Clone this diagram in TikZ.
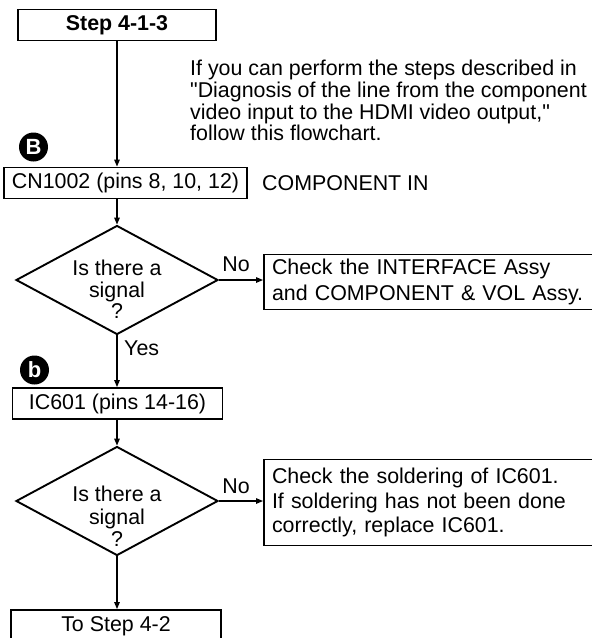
\documentclass[tikz,border=0pt]{standalone}
\usepackage{fontspec}
\setmainfont{Liberation Sans}[Ligatures=TeXOff]
\usetikzlibrary{shapes.geometric,arrows.meta}
\newcommand\myfs{\fontsize{21.4}{22}\selectfont}
\begin{document}
\begin{tikzpicture}[x=1pt,y=-1pt,
  box/.style={draw, line width=1.9pt, inner sep=0pt, font=\myfs},
  decision/.style={draw, diamond, line width=1.9pt, inner sep=0pt, minimum width=202pt, minimum height=109pt},
  qtext/.style={font=\myfs, align=center, inner sep=0pt},
  lbl/.style={font=\myfs, inner sep=0pt},
  marker/.style={circle, fill=black, text=white, inner sep=0pt, minimum size=29pt, font=\fontsize{22}{22}\selectfont\bfseries},
  arr/.style={line width=1.3pt, -{Triangle[length=7pt,width=5.5pt]}},
  flow/.style={line width=1.3pt}
]
\clip (0,0) rectangle (592,638);

% nodes
\node[box, minimum width=198pt, minimum height=31pt] (s) at (117,25) {\bfseries Step 4-1-3};
\node[lbl, anchor=north west, align=left, font=\fontsize{21.4}{21.7}\selectfont] (intro) at (190,60)
  {If you can perform the steps described in\\
   "Diagnosis of the line from the component\\
   video input to the HDMI video output,"\\
   follow this flowchart.};
\node[marker] (mB) at (33.5,147) {B};
\node[box, minimum width=243pt, minimum height=31pt] (cn) at (125.5,183) {CN1002 (pins 8, 10, 12)};
\node[lbl, anchor=west] (cin) at (262,183) {COMPONENT IN};

\node[decision] (d1) at (117,280) {};
\node[qtext, font=\fontsize{21.4}{21.5}\selectfont] (t1) at (117,289.5) {Is there a\\signal\\?};
\node[lbl] (no1) at (236,264) {No};
\node[box, minimum width=340pt, minimum height=55pt, text width=324pt, align=left, inner xsep=8pt,
      font=\fontsize{21.4}{26}\selectfont] (c1) at (434,282)
  {Check the INTERFACE Assy\\and COMPONENT \& VOL Assy.};
\node[lbl, anchor=west] (yes) at (124,348) {Yes};

\node[marker] (mb) at (34.5,370) {b};
\node[box, minimum width=210pt, minimum height=31pt] (ic) at (117.5,403.5) {IC601 (pins 14-16)};

\node[decision] (d2) at (117,501) {};
\node[qtext, font=\fontsize{21.4}{22.5}\selectfont] (t2) at (117,516.5) {Is there a\\signal\\?};
\node[lbl] (no2) at (236,486) {No};
\node[box, minimum width=340pt, minimum height=86pt, text width=324pt, align=left, inner xsep=8pt,
      font=\fontsize{21.4}{24.5}\selectfont] (c2) at (434,502.5)
  {Check the soldering of IC601.\\If soldering has not been done\\correctly, replace IC601.};

\node[box, minimum width=210pt, minimum height=32pt] (to) at (116,626) {To Step 4-2};

% connectors
\draw[arr] (s.south) -- (s.south |- cn.north);
\draw[arr] (cn.south -| d1.north) -- (d1.north);
\draw[arr] (d1.east) -- (d1.east -| c1.west);
\draw[arr] (d1.south) -- (d1.south |- ic.north);
\draw[arr] (ic.south -| d2.north) -- (d2.north);
\draw[arr] (d2.east) -- (d2.east -| c2.west);
\draw[arr] (d2.south) -- (d2.south |- to.north);
\end{tikzpicture}
\end{document}
